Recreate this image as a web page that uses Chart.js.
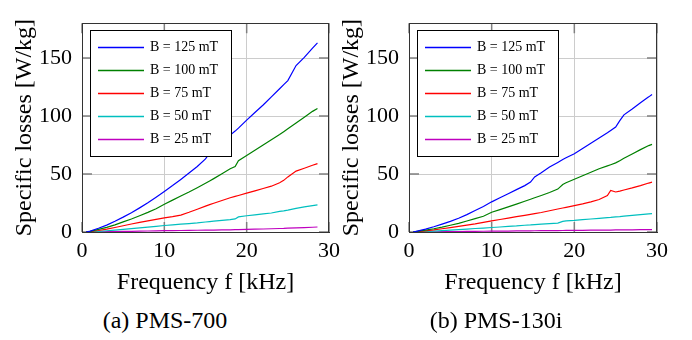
<!DOCTYPE html>
<html>
<head>
<meta charset="utf-8">
<script src="https://cdn.jsdelivr.net/npm/chart.js@4.4.1/dist/chart.umd.min.js"></script>
<style>
  body { margin: 0; background: #fff; }
  #wrap { position: relative; width: 692px; height: 340px; }
  .pane { position: absolute; top: 0; height: 300px; }
  .cap {
    position: absolute; top: 307px; width: 200px; height: 28px; line-height: 28px;
    text-align: center; font: 24px "Liberation Serif", "Times New Roman", serif; color: #000;
  }
</style>
</head>
<body>
<div id="wrap">
  <div class="pane" style="left:0;width:346px"><canvas id="chartA"></canvas></div>
  <div class="pane" style="left:327px;width:347px"><canvas id="chartB"></canvas></div>
  <div class="cap" style="left:65px">(a) PMS-700</div>
  <div class="cap" style="left:396px">(b) PMS-130i</div>
</div>
<script>
// legend labels and line colours
const labels = ['B = 125 mT', 'B = 100 mT', 'B = 75 mT', 'B = 50 mT', 'B = 25 mT'];
const colors = ['#0000ff', '#008000', '#ff0000', '#00bfbf', '#bf00bf'];
const yTicks = [0, 50, 100, 150];
const xTicks = [0, 10, 20, 30];

// (a) PMS-700, frequency in kHz, losses in W/kg
const freqA = [0.5, 1, 2, 3, 4, 5, 6, 7, 8, 9, 10, 11, 12, 13, 14, 15, 15.5, 16, 17, 18, 18.6, 19, 20, 21, 22, 23, 24, 24.5, 25, 26, 27, 28, 28.6];
const a125 = [0, 0.8, 3.2, 5.9, 9.2, 12.8, 16.6, 20.8, 25.2, 30, 35, 40, 45.3, 50.8, 56.5, 63, 68, 71, 77.5, 83.5, 87, 89.5, 96.5, 103, 109.5, 116.5, 123.5, 127, 130.5, 143.5, 150.5, 158.5, 163];
const a100 = [0, 0.6, 2.2, 4, 6.2, 8.7, 11.2, 14, 16.9, 20, 24, 27.5, 31, 34.5, 38.2, 42, 44, 46, 50.2, 54.5, 56.5, 61.5, 66, 70.5, 75, 79.5, 84, 86.5, 89, 94, 99, 104, 106.5];
const a75 = [0, 0.4, 1.3, 2.5, 3.9, 5.4, 6.9, 8.3, 9.6, 10.9, 12.2, 13.3, 14.6, 17, 19.6, 22.3, 23.6, 24.8, 27.2, 29.5, 30.7, 31.5, 33.5, 35.5, 37.5, 39.5, 42.5, 44.5, 47.5, 52.5, 55, 57.5, 59];
const a50 = [0, 0.2, 0.6, 1.1, 1.7, 2.3, 2.9, 3.5, 4.2, 4.9, 5.6, 6.2, 6.8, 7.3, 7.8, 8.6, 9, 9.4, 10, 10.6, 11.3, 13, 14, 14.8, 15.6, 16.4, 17.8, 18.2, 18.8, 20.3, 21.6, 22.8, 23.4];
const a25 = [0, 0.05, 0.15, 0.3, 0.4, 0.5, 0.6, 0.75, 0.85, 1, 1.1, 1.2, 1.3, 1.4, 1.5, 1.6, 1.65, 1.7, 1.8, 1.9, 2, 2.05, 2.2, 2.4, 2.6, 2.8, 3, 3.1, 3.3, 3.5, 3.8, 4.1, 4.3];

// (b) PMS-130i
const freqB = [0.5, 1, 2, 3, 4, 5, 6, 7, 8, 9, 10, 11, 12, 13, 14, 14.7, 15.2, 16, 17, 18, 18.6, 19, 20, 21, 22, 23, 24, 24.4, 25, 25.5, 26, 27, 28, 29, 29.4];
const b125 = [0, 0.8, 2.5, 4.5, 6.8, 9.2, 11.8, 15, 18.5, 22, 26, 29.5, 33, 36.5, 40, 43, 47.5, 51, 56, 60, 62.5, 64, 67.5, 72, 76.5, 81, 85.5, 87.5, 90.5, 96, 101, 106, 111.5, 116.5, 118.6];
const b100 = [0, 0.5, 1.6, 2.8, 4.2, 5.8, 7.5, 9.5, 11.5, 13.6, 17, 19.3, 21.6, 24, 26.5, 28.2, 29.5, 31.5, 34, 37, 41, 42.5, 45.5, 48.5, 51.5, 54.5, 57, 58, 59.6, 61.5, 63.5, 67.3, 71, 74.5, 75.5];
const b75 = [0, 0.3, 1, 1.8, 2.8, 3.8, 4.8, 5.9, 7, 8.3, 9.6, 10.8, 12, 13.2, 14.4, 15.2, 15.8, 16.8, 18.3, 19.8, 20.7, 21.3, 22.8, 24.3, 26, 28, 31.5, 35.8, 34.5, 35.3, 36.2, 38, 40, 42.2, 43];
const b50 = [0, 0.1, 0.4, 0.8, 1.2, 1.6, 2, 2.5, 3, 3.4, 3.9, 4.3, 4.8, 5.2, 5.8, 6.1, 6.4, 6.8, 7.2, 7.7, 9.2, 9.6, 10, 10.6, 11.2, 11.8, 12.4, 12.6, 13, 13.3, 13.7, 14.4, 15, 15.7, 15.9];
const b25 = [0, 0.05, 0.12, 0.2, 0.27, 0.35, 0.42, 0.5, 0.56, 0.63, 0.7, 0.77, 0.84, 0.9, 0.97, 1.02, 1.06, 1.1, 1.18, 1.25, 1.3, 1.33, 1.4, 1.47, 1.54, 1.6, 1.67, 1.7, 1.75, 1.78, 1.82, 1.9, 1.97, 2.05, 2.1];

const serif = '"Liberation Serif", "Times New Roman", serif';

// full frame round the plot area
const frame = {
    id: 'frame',
    afterDraw(chart) {
        const {ctx, chartArea: a} = chart;
        ctx.save();
        ctx.strokeStyle = '#333';
        ctx.lineWidth = 1;
        ctx.strokeRect(Math.round(a.left) + 0.5, Math.round(a.top) + 0.5,
            Math.round(a.right - a.left) - 1, Math.round(a.bottom - a.top));
        ctx.restore();
    }
};

// short tick marks on the inside of all four sides
const innerTicks = {
    id: 'innerTicks',
    beforeDatasetsDraw(chart) {
        const {ctx, chartArea: a, scales} = chart;
        ctx.save();
        ctx.strokeStyle = '#808080';
        ctx.lineWidth = 1.5;
        ctx.beginPath();
        scales.x.ticks.forEach(t => {
            const px = scales.x.getPixelForValue(t.value);
            ctx.moveTo(px, a.bottom); ctx.lineTo(px, a.bottom - 10);
            ctx.moveTo(px, a.top); ctx.lineTo(px, a.top + 10);
        });
        scales.y.ticks.forEach(t => {
            const py = scales.y.getPixelForValue(t.value);
            ctx.moveTo(a.left, py); ctx.lineTo(a.left + 10, py);
            ctx.moveTo(a.right, py); ctx.lineTo(a.right - 10, py);
        });
        ctx.stroke();
        ctx.restore();
    }
};

// boxed legend inside the plot, upper left
const boxLegend = {
    id: 'boxLegend',
    afterDatasetsDraw(chart) {
        const {ctx, chartArea: a} = chart;
        const x0 = Math.round(a.left + 8), y0 = Math.round(a.top + 7);
        ctx.save();
        ctx.fillStyle = '#fff';
        ctx.fillRect(x0, y0, 142, 127);
        ctx.strokeStyle = '#000';
        ctx.lineWidth = 1;
        ctx.strokeRect(x0 + 0.5, y0 + 0.5, 141, 126);
        ctx.font = '14px ' + serif;
        ctx.textBaseline = 'middle';
        chart.data.datasets.forEach((ds, i) => {
            const y = Math.round(y0 + 17 + i * 23.1) + 0.5;
            ctx.strokeStyle = ds.borderColor;
            ctx.lineWidth = 1.3;
            ctx.beginPath();
            ctx.moveTo(x0 + 8, y); ctx.lineTo(x0 + 54, y);
            ctx.stroke();
            ctx.fillStyle = '#000';
            ctx.fillText(ds.label, x0 + 60, y);
        });
        ctx.restore();
    }
};

function makeChart(id, freq, series) {
    const datasets = series.map((vals, i) => ({
        label: labels[i],
        data: freq.map((f, j) => ({x: f, y: vals[j]})),
        borderColor: colors[i],
        backgroundColor: colors[i],
        borderWidth: 1.2,
        pointRadius: 0,
        fill: false,
        tension: 0
    }));
    return new Chart(document.getElementById(id), {
        type: 'line',
        data: {datasets: datasets},
        options: {
            responsive: true,
            maintainAspectRatio: false,
            animation: false,
            events: [],
            layout: {padding: {top: 6, right: 15, left: 0, bottom: 0}},
            plugins: {legend: {display: false}, tooltip: {enabled: false}},
            scales: {
                x: {
                    type: 'linear',
                    min: 0, max: 30,
                    afterBuildTicks: s => { s.ticks = xTicks.map(v => ({value: v})); },
                    afterFit: s => { s.height = 68; },
                    grid: {color: '#cccccc', lineWidth: 1, drawTicks: false},
                    border: {display: true, color: '#333'},
                    ticks: {padding: 6, color: '#000', maxRotation: 0, font: {family: serif, size: 22}},
                    title: {display: true, text: 'Frequency f [kHz]', color: '#000',
                        padding: {top: 0, bottom: 3}, font: {family: serif, size: 24}}
                },
                y: {
                    min: 0, max: 180,
                    afterBuildTicks: s => { s.ticks = yTicks.map(v => ({value: v})); },
                    afterFit: s => { s.width = 82; },
                    grid: {color: '#cccccc', lineWidth: 1, drawTicks: false},
                    border: {display: true, color: '#333'},
                    ticks: {padding: 10, color: '#000', font: {family: serif, size: 22}},
                    title: {display: true, text: 'Specific losses [W/kg]', color: '#000',
                        padding: {top: 10, bottom: 0}, font: {family: serif, size: 24}}
                }
            }
        },
        plugins: [innerTicks, boxLegend, frame]
    });
}

makeChart('chartA', freqA, [a125, a100, a75, a50, a25]);
makeChart('chartB', freqB, [b125, b100, b75, b50, b25]);
</script>
</body>
</html>
